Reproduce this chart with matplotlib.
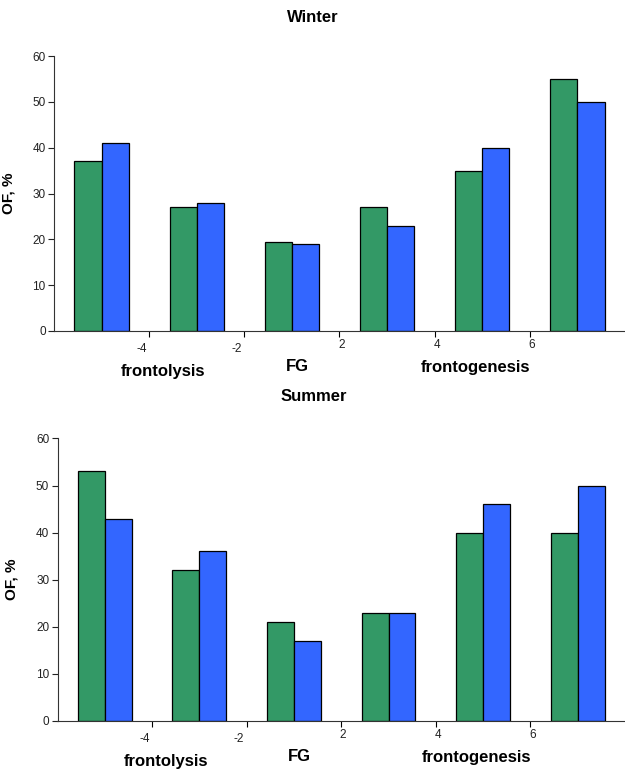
import numpy as np
import matplotlib.pyplot as plt
from matplotlib.transforms import blended_transform_factory

plt.rcParams['font.family'] = ['Liberation Sans', 'DejaVu Sans']

# occurrence frequency (%) per FG class, two series per season
groups = np.arange(6)
winter_green = [37, 27, 19.5, 27, 35, 55]
winter_blue = [41, 28, 19, 23, 40, 50]
summer_green = [53, 32, 21, 23, 40, 40]
summer_blue = [43, 36, 17, 23, 46, 50]

tick_pos = [0.5, 1.5, 2.5, 3.5, 4.5]
tick_labels = ['-4', '-2', '2', '4', '6']

green = '#339966'
blue = '#3366FF'
w = 0.285

fig = plt.figure(figsize=(6.25, 7.74), dpi=100)
ax1 = fig.add_axes([0.0864, 0.5724, 0.9136, 0.3552])
ax2 = fig.add_axes([0.092, 0.0685, 0.908, 0.365])


def draw(ax, g, b, title, ty, tx):
    ax.bar(groups - w / 2, g, w, color=green, edgecolor='black', linewidth=0.9)
    ax.bar(groups + w / 2, b, w, color=blue, edgecolor='black', linewidth=0.9)
    ax.set_xlim(-0.5, 5.5)
    ax.set_ylim(0, 60)
    ax.set_yticks(range(0, 61, 10))
    ax.tick_params(axis='y', labelsize=8.5, length=4, pad=2, colors='#222222')
    ax.set_xticks(tick_pos)
    ax.set_xticklabels([])
    ax.tick_params(axis='x', length=4)
    for s in ['top', 'right']:
        ax.spines[s].set_visible(False)
    for s in ['left', 'bottom']:
        ax.spines[s].set_color('#333333')
    # tick labels sit at uneven heights, negatives nudged left
    for p, lab in zip(tick_pos, tick_labels):
        neg = lab.startswith('-')
        ax.annotate(lab, (p - (0.08 if neg else -0.02), 0), xycoords='data',
                    xytext=(0, -13 if neg else -10), textcoords='offset points',
                    ha='center', va='center', fontsize=8.5, color='#222222',
                    annotation_clip=False)
    ax.set_ylabel('OF, %', fontsize=11, fontweight='bold')
    ax.yaxis.set_label_coords(-0.068, 0.5)
    trans = blended_transform_factory(ax.transData, ax.transAxes)
    for x, txt, dy in [(0.645, 'frontolysis', 41), (2.06, 'FG', 36),
                       (3.93, 'frontogenesis', 37)]:
        ax.annotate(txt, (x, 0), xycoords=trans, xytext=(0, -dy * 0.72),
                    textcoords='offset points', ha='center', va='center',
                    fontsize=12, fontweight='bold', annotation_clip=False)
    fig.text(tx, ty, title, ha='center', va='center', fontsize=12,
             fontweight='bold')


draw(ax1, winter_green, winter_blue, 'Winter', 1 - 18 / 774, 313 / 625)
draw(ax2, summer_green, summer_blue, 'Summer', 1 - 397 / 774, 314 / 625)

fig.savefig('out.png', dpi=100)
